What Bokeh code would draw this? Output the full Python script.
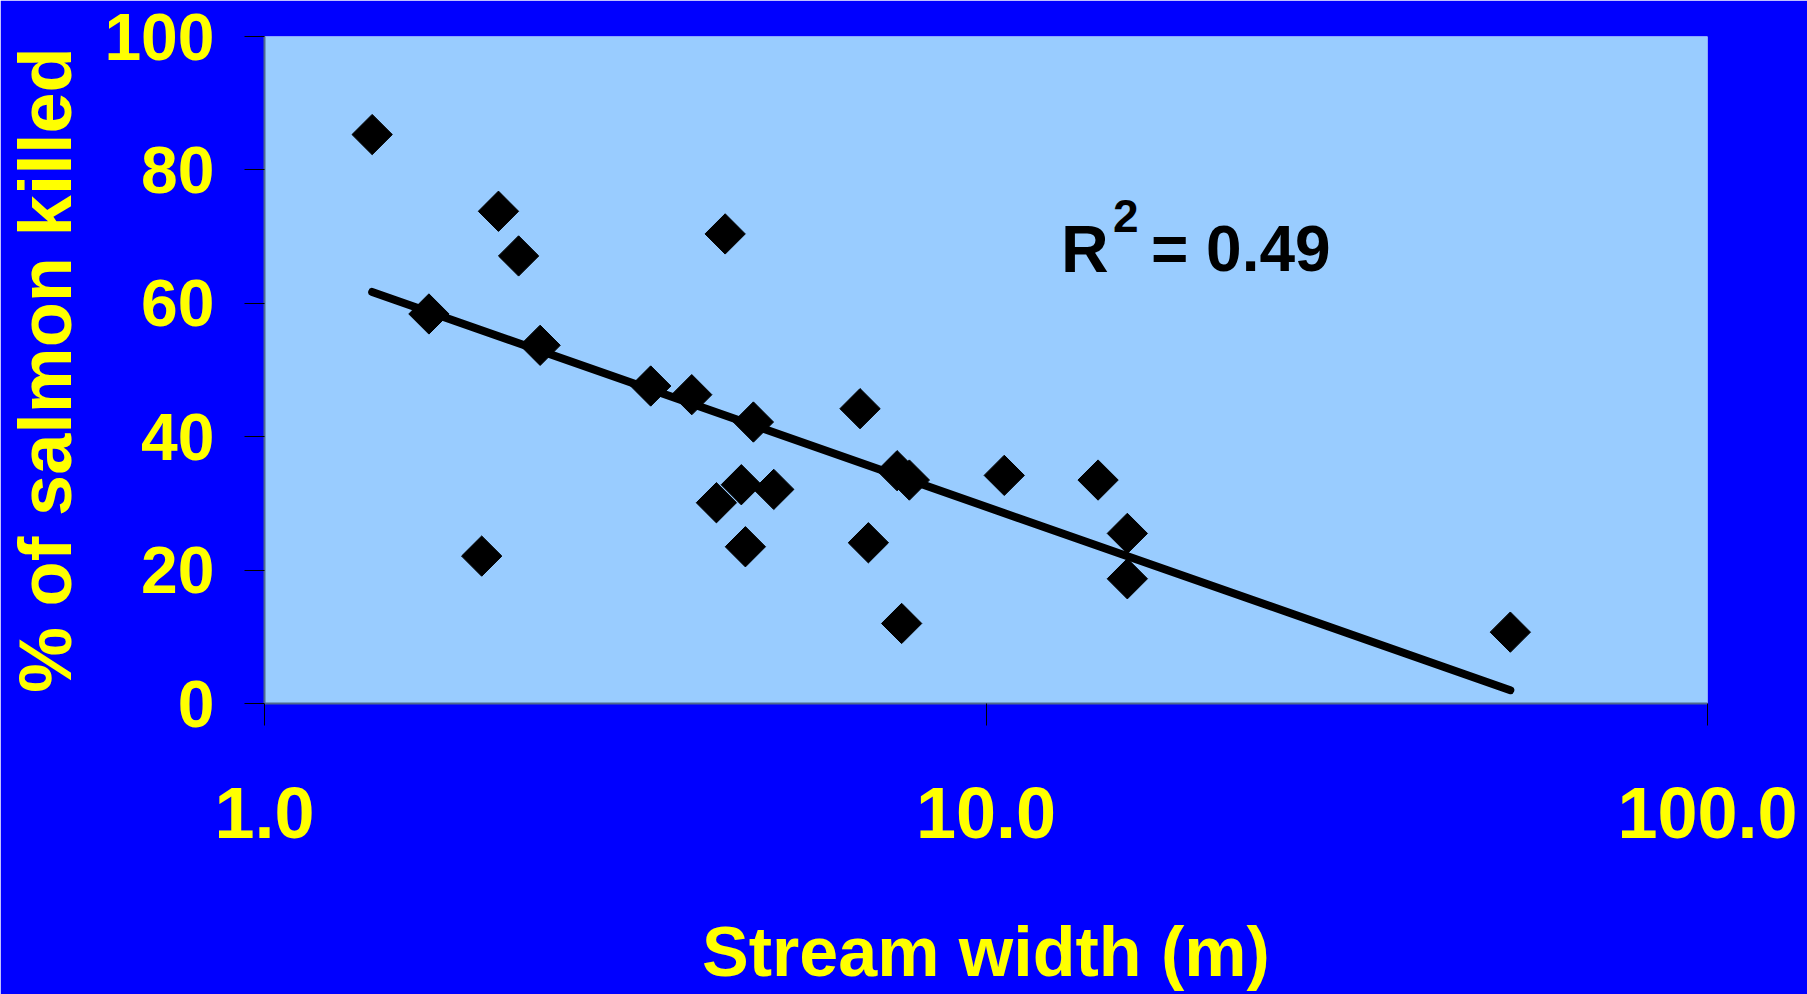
import numpy as np
from bokeh.plotting import figure
from bokeh.models import Range1d, FixedTicker, PrintfTickFormatter, Label
from bokeh.embed import file_html
from bokeh.resources import INLINE

# ---- data ----
stream_width = [1.41, 1.69, 2.00, 2.11, 2.25, 2.41, 3.43, 3.91, 4.23, 4.35, 4.58, 4.64,
                4.76, 5.08, 6.69, 6.87, 7.53, 7.64, 7.83, 10.6, 14.3, 15.7, 15.7, 53.3]
pct_killed = [85.3, 58.4, 22.1, 73.8, 67.1, 53.7, 47.6, 46.3, 30.1, 70.4, 32.8, 23.5,
              42.2, 32.1, 44.2, 24.1, 34.9, 12.0, 33.5, 34.2, 33.5, 25.5, 18.7, 10.7]
trend_x = [1.41, 53.3]
trend_y = [61.7, 2.0]
y_ticks = [0, 20, 40, 60, 80, 100]
x_ticks = [1, 10, 100]
r2_parts = ["R", "2", "= 0.49"]
r2_anchor = (12.7, 68.2)

FONT = "Liberation Sans"
YELLOW = "#FFFF00"

p = figure(width=1807, height=994, x_axis_type="log",
           x_range=Range1d(1, 100), y_range=Range1d(0, 100),
           output_backend="svg", toolbar_location=None,
           min_border_left=264, min_border_right=100,
           min_border_top=36, min_border_bottom=291)

p.background_fill_color = "#99CCFF"
p.border_fill_color = "#0000FF"
p.outline_line_color = None
p.grid.visible = False

# x axis
xa = p.xaxis[0]
xa.ticker = FixedTicker(ticks=x_ticks, minor_ticks=[])
xa.formatter = PrintfTickFormatter(format="%.1f")
xa.axis_label = "Stream width (m)"
xa.major_tick_out = 22
xa.major_tick_in = 0
xa.minor_tick_out = 0
xa.minor_tick_in = 0
xa.major_label_standoff = 62
xa.axis_label_standoff = 72

# y axis
ya = p.yaxis[0]
ya.ticker = FixedTicker(ticks=y_ticks, minor_ticks=[])
ya.axis_label = "% of salmon killed"
ya.major_tick_out = 20
ya.major_tick_in = 0
ya.minor_tick_out = 0
ya.minor_tick_in = 0
ya.major_label_standoff = 30
ya.axis_label_standoff = 14

for ax in (xa, ya):
    ax.axis_line_color = "#4F6A8F"
    ax.axis_line_width = 2
    ax.major_tick_line_color = "black"
    ax.major_tick_line_width = 1
    ax.major_label_text_font = FONT
    ax.major_label_text_font_style = "bold"
    ax.major_label_text_color = YELLOW
    ax.axis_label_text_font = FONT
    ax.axis_label_text_font_style = "bold"
    ax.axis_label_text_color = YELLOW

xa.major_label_text_font_size = "72px"
xa.axis_label_text_font_size = "70px"
ya.major_label_text_font_size = "66px"
ya.axis_label_text_font_size = "74px"

# trend line and points
p.line(trend_x, trend_y, line_width=8, line_color="black", line_cap="round")
p.scatter(stream_width, pct_killed, marker="square", size=28.5, angle=np.pi / 4,
          fill_color="black", line_color="black")

# R^2 annotation: R, superscript 2, "= 0.49"
common = dict(x=r2_anchor[0], y=r2_anchor[1], text_font=FONT, text_font_style="bold",
              text_color="black", text_baseline="alphabetic")
p.add_layout(Label(text=r2_parts[0], text_font_size="66px", **common))
p.add_layout(Label(text=r2_parts[1], text_font_size="46px", x_offset=52, y_offset=33, **common))
p.add_layout(Label(text=r2_parts[2], text_font_size="64px", x_offset=90, **common))

open("out.html", "w").write(file_html(p, INLINE))
